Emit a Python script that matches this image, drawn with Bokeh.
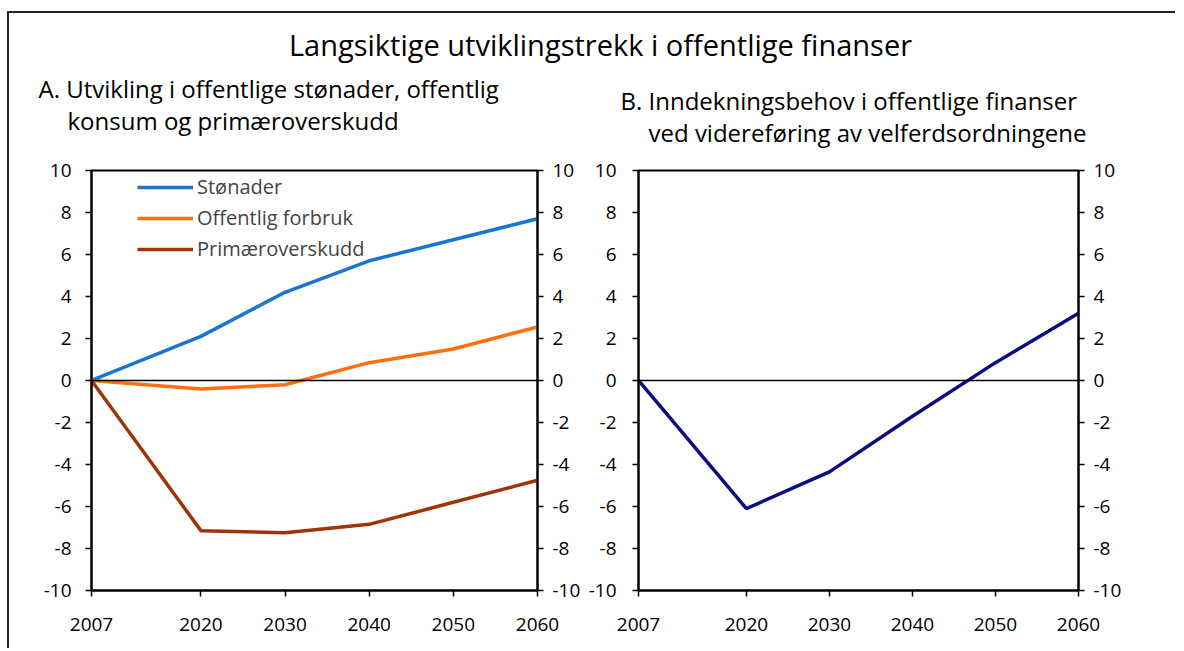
from bokeh.plotting import figure
from bokeh.models import Range1d, FixedTicker, LinearAxis, Span
from bokeh.layouts import column, row
from bokeh.core.properties import value
from bokeh.embed import file_html
from bokeh.resources import INLINE

# ---- data ----
years = [2007, 2020, 2030, 2040, 2050, 2060]
stonader = [0.0, 2.1, 4.2, 5.7, 6.7, 7.7]
off_forbruk = [0.0, -0.4, -0.2, 0.85, 1.5, 2.55]
primaer = [0.0, -7.15, -7.25, -6.85, -5.8, -4.75]
inndekning = [0.0, -6.1, -4.35, -1.7, 0.85, 3.2]

series_names = ["Stønader", "Offentlig forbruk", "Primæroverskudd"]
y_ticks = [-10, -8, -6, -4, -2, 0, 2, 4, 6, 8, 10]
y_tick_labels = {t: str(t) for t in y_ticks}
x_ticks = years

main_title = "Langsiktige utviklingstrekk i offentlige finanser"
sub_a = ["A. Utvikling i offentlige stønader, offentlig", "konsum og primæroverskudd"]
sub_b = ["B. Inndekningsbehov i offentlige finanser", "ved videreføring av velferdsordningene"]

FONT = "Open Sans"
TICK_SIZE = "19px"

# ---- header ----
HDR_H = 140
hdr = figure(width=1166, height=HDR_H, x_range=Range1d(0, 1166), y_range=Range1d(HDR_H, 0),
             toolbar_location=None, output_backend="svg", min_border=0)
hdr.axis.visible = False
hdr.grid.visible = False
hdr.outline_line_color = None
hdr.text(x=[591], y=[31], text=[main_title], text_font=value(FONT), text_font_size="29px",
         text_align="center", text_baseline="alphabetic", text_color="black")
hdr.text(x=[29, 58], y=[75, 107], text=sub_a, text_font=value(FONT), text_font_size="24px",
         text_align="left", text_baseline="alphabetic", text_color="black")
hdr.text(x=[611, 639], y=[87, 119], text=sub_b, text_font=value(FONT), text_font_size="24px",
         text_align="left", text_baseline="alphabetic", text_color="black")


def make_panel(width, left_b, right_b, left_standoff, right_standoff):
    p = figure(width=width, height=495, x_range=Range1d(2007, 2060), y_range=Range1d(-10, 10),
               toolbar_location=None, output_backend="svg",
               min_border_left=left_b, min_border_right=right_b,
               min_border_top=17, min_border_bottom=58, y_axis_location="left")
    p.grid.visible = False
    p.outline_line_color = "black"
    p.outline_line_width = 2
    p.add_layout(LinearAxis(), "right")
    for ax in p.yaxis:
        ax.ticker = FixedTicker(ticks=y_ticks)
        ax.major_label_overrides = y_tick_labels
        ax.minor_tick_line_color = None
        ax.major_tick_in = 0
        ax.major_tick_out = 6
        ax.axis_line_width = 2
        ax.major_tick_line_width = 1.5
        ax.major_label_text_font = FONT
        ax.major_label_text_font_size = TICK_SIZE
        ax.major_label_text_color = "black"
    p.yaxis[0].major_label_standoff = left_standoff
    p.yaxis[1].major_label_standoff = right_standoff
    xa = p.xaxis[0]
    xa.ticker = FixedTicker(ticks=x_ticks)
    xa.minor_tick_line_color = None
    xa.major_tick_in = 0
    xa.major_tick_out = 6
    xa.axis_line_width = 2
    xa.major_tick_line_width = 1.5
    xa.major_label_standoff = 21
    xa.major_label_text_font = FONT
    xa.major_label_text_font_size = TICK_SIZE
    xa.major_label_text_color = "black"
    p.add_layout(Span(location=0, dimension="width", line_color="black", line_width=1.5))
    return p


left = make_panel(576, 82, 48, 14, 9)
left.line(years, stonader, line_color="#1A74D2", line_width=3.5, legend_label=series_names[0])
left.line(years, off_forbruk, line_color="#FF6F10", line_width=3.5, legend_label=series_names[1])
left.line(years, primaer, line_color="#9E3508", line_width=3.5, legend_label=series_names[2])
lg = left.legend[0]
lg.location = (46, 328)
lg.padding = 0
lg.margin = 0
lg.spacing = 4
lg.label_height = 22
lg.glyph_height = 22
lg.glyph_width = 56
lg.label_standoff = 4
lg.label_text_font = FONT
lg.label_text_font_size = "20px"
lg.border_line_color = None
lg.background_fill_alpha = 0

right = make_panel(590, 48, 97, 16, 9)
right.line(years, inndekning, line_color="#0B0C80", line_width=3.5)

layout = column(hdr, row(left, right),
                styles={"border-top": "2px solid #222222", "border-left": "2px solid #222222",
                        "margin-left": "7px", "margin-top": "11px"})

with open("out.html", "w") as f:
    f.write(file_html(layout, INLINE))
